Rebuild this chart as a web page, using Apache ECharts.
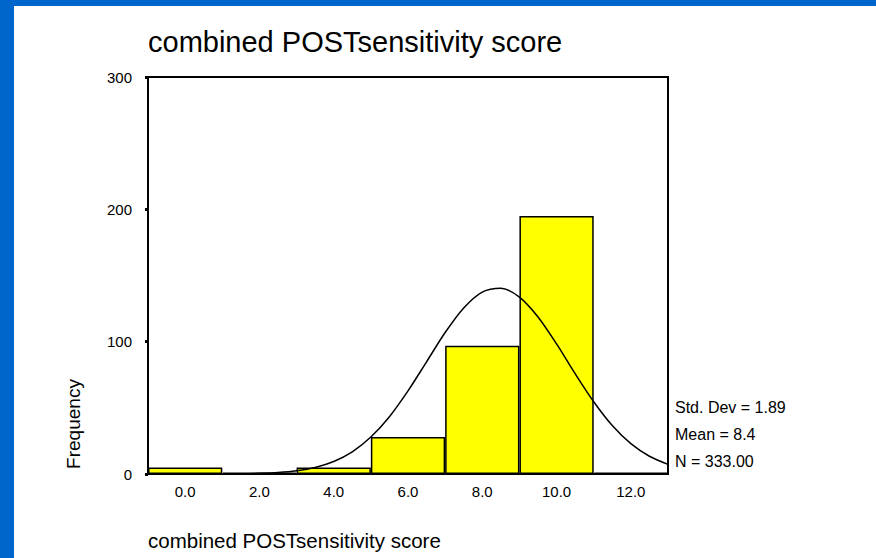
<!DOCTYPE html>
<html>
<head>
<meta charset="utf-8">
<script src="https://cdn.jsdelivr.net/npm/echarts@6/dist/echarts.min.js"></script>
<style>
  html, body { margin: 0; padding: 0; width: 876px; height: 558px; background: #0066cc; overflow: hidden; }
  #main { position: absolute; left: 14px; top: 6px; width: 862px; height: 552px; background: #fff; }
</style>
</head>
<body>
<div id="main"></div>
<script>
// 直方图的数据
var binLabels = ['0.0', '2.0', '4.0', '6.0', '8.0', '10.0', '12.0'];
var binCounts = [5, 1, 5, 28, 97, 195, 1];
var yTicks = [0, 100, 200, 300];
// 正态曲线 (从图上读出的点)
var curveX = [-1, -0.5, 0, 0.5, 1, 1.5, 2, 2.5, 3, 3.5, 4, 4.5, 5, 5.5, 6, 6.5, 7, 7.5, 8, 8.5, 9, 9.5, 10, 10.5, 11, 11.5, 12, 12.5, 13];
var curveY = [0, 0, 0, 0, 0.1, 0.2, 0.5, 1.1, 2.4, 4.9, 9.4, 16.7, 27.9, 43.3, 62.8, 84.8, 106.9, 125.5, 137.5, 140.4, 133.7, 118.7, 98.3, 75.8, 54.6, 36.6, 22.9, 13.4, 7.3];
var statsLines = ['Std. Dev = 1.89', 'Mean = 8.4', 'N = 333.00'];
var titleText = 'combined POSTsensitivity score';
var yName = 'Frequency';

var myChart = echarts.init(document.getElementById('main'), null, { renderer: 'svg' });

var font = 'Arial, "Liberation Sans", Helvetica, sans-serif';

var curveData = curveX.map(function (x, i) { return [x, curveY[i]]; });

var graphics = [
    // 标题
    { type: 'text', left: 134, top: 21, style: { text: titleText, font: '29px ' + font, fill: '#000' } },
    // 横轴名称
    { type: 'text', left: 134, top: 524, style: { text: titleText, font: '20.5px ' + font, fill: '#000' } },
    // 纵轴名称
    { type: 'text', x: 59, y: 418, rotation: Math.PI / 2,
      style: { text: yName, font: '19px ' + font, fill: '#000', align: 'center', verticalAlign: 'middle' } }
];
statsLines.forEach(function (s, i) {
    graphics.push({ type: 'text', x: 661, y: 401 + i * 27.2,
        style: { text: s, font: '16px ' + font, fill: '#000', verticalAlign: 'middle' } });
});

var option = {
    animation: false,
    backgroundColor: '#fff',
    grid: { left: 134, right: 208, top: 71, bottom: 84, show: true, borderColor: '#000', borderWidth: 2 },
    xAxis: [{
        type: 'category',
        data: binLabels,
        boundaryGap: true,
        axisLine: { lineStyle: { color: '#000', width: 2 } },
        axisTick: { alignWithLabel: true, length: 3, lineStyle: { color: '#000', width: 3 } },
        axisLabel: { color: '#000', fontSize: 15, fontFamily: font, margin: 10 }
    }, {
        type: 'value',
        min: -1,
        max: 13,
        show: false
    }],
    yAxis: {
        type: 'value',
        min: yTicks[0],
        max: yTicks[yTicks.length - 1],
        interval: 100,
        splitLine: { show: false },
        axisLine: { show: true, onZero: false, lineStyle: { color: '#000', width: 2 } },
        axisTick: { show: true, length: 3, lineStyle: { color: '#000', width: 3 } },
        axisLabel: { color: '#000', fontSize: 15, fontFamily: font, margin: 16 }
    },
    graphic: graphics,
    series: [{
        type: 'bar',
        data: binCounts,
        barCategoryGap: '0%',
        itemStyle: { color: '#ffff00', borderColor: '#000', borderWidth: 1.5 }
    }, {
        type: 'line',
        xAxisIndex: 1,
        data: curveData,
        smooth: 0.3,
        showSymbol: false,
        lineStyle: { color: '#000', width: 1.5 }
    }]
};

myChart.setOption(option);
</script>
</body>
</html>
